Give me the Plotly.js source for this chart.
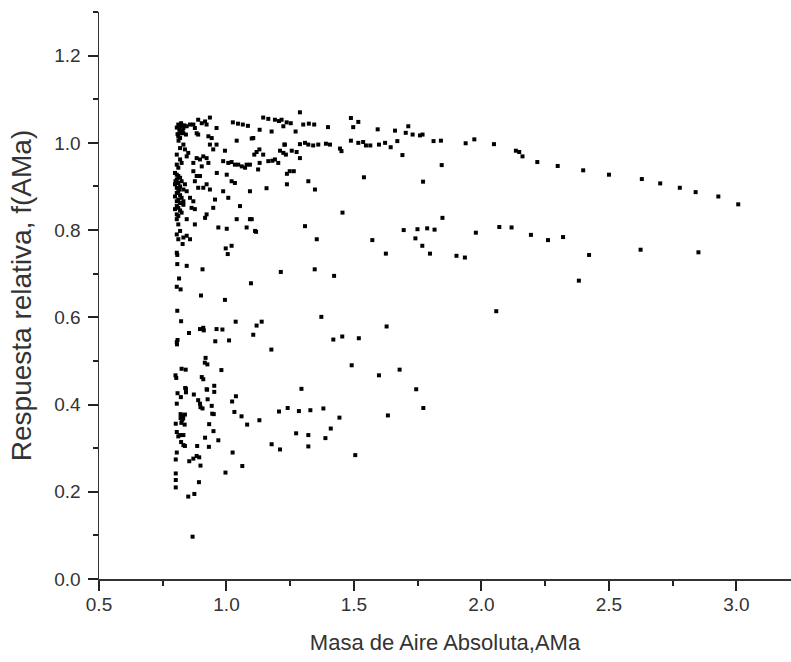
<!DOCTYPE html>
<html>
<head>
<meta charset="utf-8">
<script src="https://cdn.plot.ly/plotly-3.0.1.min.js"></script>
<style>html,body{margin:0;padding:0;background:#fff;}#chart{width:791px;height:662px;}</style>
</head>
<body>
<div id="chart"></div>
<script>
// Absolute air mass (AMa) and relative response f(AMa), grouped by region
const topStripX = [.811,.818,.824,.831,.815,.824,.818,.831,.841,.811,.818,.844,.857,.870,.805,.822,.828,.808,.835,.812];
const topStripY = [1.042,1.038,1.040,1.034,1.030,1.026,1.022,1.022,1.019,1.015,1.011,1.038,1.042,1.042,1.035,1.045,1.028,1.020,1.040,1.005];

const topNearX = [.889,.903,.916,.935,.922,.876,.883,.889,.961,.929,.942,.935,.961,.948,1.025,1.045,1.064,1.084,1.105,1.040,.994];
const topNearY = [1.053,1.045,1.049,1.058,1.042,1.034,1.022,1.019,1.034,1.015,1.011,.996,.996,.985,1.047,1.044,1.042,1.039,1.011,1.005,.982];

const upperMidX = [.831,.818,.837,.850,.805,.818,.824,.805,.811,.844,.870,.883,.896,.909,.922,.929,.903,.987,1.007,1.020,1.033,1.046,1.060,1.073,1.079];
const upperMidY = [.996,.988,.985,.977,.973,.962,.954,.950,.943,.969,.954,.965,.962,.969,.965,.954,.946,.958,.954,.956,.950,.950,.946,.943,.950];

const denseStripX = [.798,.805,.811,.818,.805,.824,.811,.798,.818,.805,.831,.811,.805,.818,.798,.824,.811,.805,.818,.831,.805,.811,.798,.818,.824,.805,.811,.837,.831,.844,.800,.815];
const denseStripY = [.931,.927,.924,.920,.916,.912,.908,.905,.900,.897,.893,.889,.885,.880,.877,.874,.870,.866,.862,.858,.855,.851,.848,.845,.840,.836,.832,.905,.866,.889,.912,.893];

const stripLowX = [.805,.811,.818,.805,.831,.844,.857,.811];
const stripLowY = [.825,.813,.798,.790,.783,.787,.779,.779];

const nearMidX = [.870,.883,.896,.876,.889,.909,.922,.935,.857,.870,.863,.876,.844,.876];
const nearMidY = [.935,.924,.924,.912,.897,.897,.905,.893,.874,.866,.851,.848,.825,.813];

const oneMidX = [.962,1.001,1.020,1.033,.987,1.007,1.053,.955,.948,.922,.916,.968,1.001,1.040,1.079,1.099,1.112];
const oneMidY = [.931,.927,.912,.908,.889,.874,.855,.870,.851,.836,.828,.806,.803,.825,.806,.825,.798];

const bandTopX = [1.288,1.144,1.164,1.190,1.130,1.177,1.223,1.271,1.099,1.216,1.236,1.252,1.206];
const bandTopY = [1.070,1.058,1.055,1.053,1.030,1.026,1.038,1.026,1.010,1.053,1.047,1.045,1.050];

const bandRightX = [1.301,1.323,1.344,1.398,1.488,1.517,1.497,1.593,1.661,1.713,1.703,1.730,1.759,1.769,1.812,1.841,1.938,1.972,2.049];
const bandRightY = [1.042,1.044,1.042,1.036,1.057,1.048,1.036,1.031,1.028,1.038,1.023,1.019,1.017,1.019,1.004,1.005,.999,1.008,.997];

const bandLowX = [1.227,1.288,1.308,1.321,1.340,1.360,1.390,1.406,1.445,1.451,1.488,1.517,1.536,1.547,1.564,1.598,1.622,1.644,1.670,1.690,1.844,1.539,1.771];
const bandLowY = [.996,.997,1.000,.996,.994,.996,.998,.996,.987,.981,1.005,1.000,1.002,.994,.994,.996,1.000,.990,1.004,.972,.949,.921,.911];

const midBlockX = [1.092,1.109,1.118,1.144,1.129,1.130,1.124,1.164,1.180,1.190,1.203,1.210,1.223,1.233,1.229,1.256,1.275,1.288,1.237,1.248,1.264,1.237,1.157,1.092,1.321,1.347,1.455,1.847,1.092,1.116,1.308,1.354,1.572,1.695,1.749,1.741,1.787,1.816,1.768,1.978,2.070];
const midBlockY = [.950,.973,.979,.973,.985,.954,.939,.958,.959,.962,.954,.982,.977,.973,.996,.982,.979,.965,.929,.935,.935,.905,.896,.889,.912,.893,.840,.828,.825,.796,.809,.779,.777,.800,.802,.781,.804,.801,.764,.794,.807];

const tailX = [2.135,2.148,2.161,2.219,2.299,2.399,2.500,2.629,2.701,2.778,2.840,2.929,3.007,2.118,2.194,2.261,2.320,2.422,2.624,2.851,2.382];
const tailY = [.982,.979,.969,.956,.947,.937,.927,.917,.907,.897,.887,.877,.859,.806,.789,.777,.784,.743,.755,.749,.684];

const lowerMidX = [1.625,1.798,1.902,1.935,1.213,1.346,1.422,1.096,2.058,1.372,1.118,1.138,1.105,1.628,1.419,1.454,1.519,1.176,1.491,1.598,1.679,1.294,1.744,1.206,1.240,1.284,1.329,1.380,1.129,1.443,1.633,1.772,1.273,1.321,1.409,1.388,1.177,1.210,1.321,1.505];
const lowerMidY = [.746,.746,.741,.737,.704,.710,.695,.678,.614,.601,.581,.590,.560,.579,.549,.556,.552,.526,.490,.467,.480,.436,.435,.384,.392,.385,.387,.391,.364,.370,.375,.392,.334,.330,.345,.323,.309,.297,.304,.284];

const stripMidX = [.828,.997,1.020,1.005,.805,.807,.807,.844,.906,.814,.805,.820,.900,.994,.807,.822,1.036,.896,.909,.911,.853,.961,.984,1.010,.956,.805,.808,.806,.918,.915,.925,.824,.840,.980,.800,.803,.903,.909,.838,.922,.952];
const stripMidY = [.768,.758,.764,.745,.748,.743,.722,.718,.710,.689,.670,.664,.650,.640,.615,.591,.590,.573,.576,.570,.564,.573,.572,.547,.545,.543,.548,.538,.507,.496,.492,.482,.480,.479,.467,.461,.463,.458,.438,.435,.443];

const stripBottomX = [.808,.841,.841,.821,.872,.924,.952,.805,.889,.896,.898,.906,.926,.942,.944,.950,1.022,1.037,1.031,1.059,1.081,.820,.825,.830,.837,.830,.826,.820,.801,.823,.836,.805,.818,.831,.811,.822,.831,.837,.932,.916,.949,.968,.931,.885,.805,.801,.854,.870,.883,.893,.898,1.024,.996,1.062,.801,.801,.801,.892,.850,.874,.867];
const stripBottomY = [.426,.436,.428,.417,.423,.434,.429,.402,.410,.402,.394,.391,.412,.397,.379,.378,.407,.419,.383,.373,.354,.378,.375,.372,.377,.368,.365,.369,.356,.358,.354,.337,.330,.330,.327,.314,.307,.305,.355,.324,.339,.318,.303,.305,.290,.274,.270,.276,.282,.279,.260,.290,.244,.259,.242,.227,.210,.222,.189,.195,.097];

const xTitle = "Masa de Aire Absoluta,AMa";
const yTitle = "Respuesta relativa, f(AMa)";

const airMass = [].concat(topStripX, topNearX, upperMidX, denseStripX, stripLowX, nearMidX, oneMidX, bandTopX, bandRightX, bandLowX, midBlockX, tailX, lowerMidX, stripMidX, stripBottomX);
const relResponse = [].concat(topStripY, topNearY, upperMidY, denseStripY, stripLowY, nearMidY, oneMidY, bandTopY, bandRightY, bandLowY, midBlockY, tailY, lowerMidY, stripMidY, stripBottomY);

const fontFam = "'Liberation Sans', Arial, sans-serif";
const axisCommon = {
  showgrid: false, zeroline: false, showline: true, linecolor: '#333', linewidth: 1.5,
  ticks: 'outside', ticklen: 10, tickwidth: 2, tickcolor: '#222',
  tickfont: {family: fontFam, size: 19, color: '#333'},
  tickformat: '.1f'
};

Plotly.newPlot('chart', [{
  type: 'scatter', mode: 'markers', x: airMass, y: relResponse,
  marker: {symbol: 'square', size: 4, color: '#000', line: {width: 0}},
  hoverinfo: 'x+y'
}], {
  width: 791, height: 662,
  margin: {l: 99, r: 0, t: 12, b: 83},
  paper_bgcolor: '#fff', plot_bgcolor: '#fff',
  showlegend: false,
  xaxis: Object.assign({}, axisCommon, {
    range: [0.5, 3.214], tick0: 0.5, dtick: 0.5,
    minor: {ticks: 'outside', ticklen: 5, tickwidth: 2, tickcolor: '#222', dtick: 0.25, tick0: 0.5},
    ticklabelstandoff: -2,
    title: {text: xTitle, font: {family: fontFam, size: 22, color: '#333'}, standoff: 20}
  }),
  yaxis: Object.assign({}, axisCommon, {
    range: [0, 1.3], tick0: 0, dtick: 0.2,
    minor: {ticks: 'outside', ticklen: 5, tickwidth: 2, tickcolor: '#222', dtick: 0.1, tick0: 0},
    ticklabelstandoff: 3,
    title: {text: yTitle, font: {family: fontFam, size: 28, color: '#333'}, standoff: 14}
  })
}, {displayModeBar: false, staticPlot: true});
</script>
</body>
</html>
